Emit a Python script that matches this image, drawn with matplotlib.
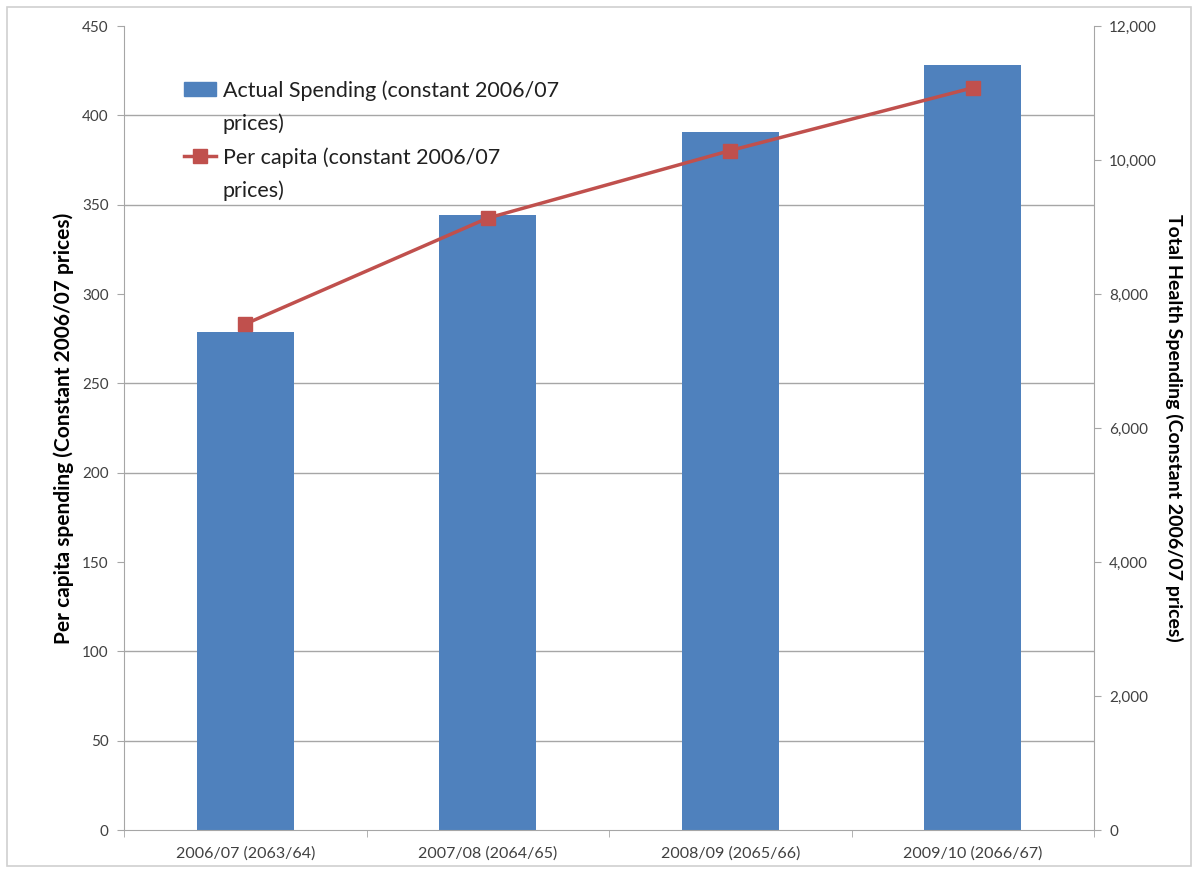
import numpy as np
import matplotlib
matplotlib.use("Agg")
import matplotlib.pyplot as plt
from matplotlib.patches import Rectangle
from matplotlib.lines import Line2D

plt.rcParams['font.family'] = ['Lato', 'DejaVu Sans']

categories = ["2006/07 (2063/64)", "2007/08 (2064/65)", "2008/09 (2065/66)", "2009/10 (2066/67)"]
total_spending = [7440, 9180, 10415, 11420]   # right axis (bars)
per_capita = [283.2, 342.5, 380.3, 415.4]      # left axis (line)

bar_label = ["Actual Spending (constant 2006/07", "prices)"]
line_label = ["Per capita (constant 2006/07", "prices)"]
left_ylabel = "Per capita spending (Constant 2006/07 prices)"
right_ylabel = "Total Health Spending (Constant 2006/07 prices)"

bar_color = "#4F81BD"
line_color = "#C0504D"
grid_color = "#A6A6A6"
tick_color = "#404040"

fig = plt.figure(figsize=(11.98, 8.71), dpi=100)
fig.patches.append(Rectangle((0.006, 0.006), 0.988, 0.986, transform=fig.transFigure,
                             fill=False, edgecolor="#D0D0D0", linewidth=1.2))

ax = fig.add_axes([124/1198, 41/871, (1094-124)/1198, (830-26)/871])
ax2 = ax.twinx()
ax2.set_zorder(1)
ax.set_zorder(2)
ax.patch.set_visible(False)

x = np.arange(len(categories))

# bars on right axis
ax2.bar(x, total_spending, width=0.40, color=bar_color, zorder=3)
ax2.set_ylim(0, 12000)
ax2.set_yticks(np.arange(0, 12001, 2000))
ax2.set_yticklabels([f"{v:,}" for v in range(0, 12001, 2000)])
# gridlines aligned with the left axis ticks, drawn behind bars
ax2.set_yticks(np.arange(0, 451, 50) * 12000 / 450, minor=True)
ax2.tick_params(axis='y', which='minor', length=0)
ax2.grid(True, which='minor', axis='y', color=grid_color, linewidth=1, zorder=0)
ax2.set_axisbelow(True)
ax2.tick_params(axis='y', which='major', colors=grid_color, labelcolor=tick_color,
                labelsize=11, length=5, direction='out', pad=6)
ax2.set_ylabel(right_ylabel, rotation=270, labelpad=19, fontsize=14,
               fontweight='bold', color='black')

# line on left axis
ax.plot(x, per_capita, color=line_color, linewidth=2.5, marker='s', markersize=10,
        markerfacecolor=line_color, markeredgecolor=line_color, zorder=5)
ax.set_ylim(0, 450)
ax.set_yticks(np.arange(0, 451, 50))
ax.tick_params(axis='y', colors=grid_color, labelcolor=tick_color, labelsize=11,
               length=5, direction='out', pad=6)
ax.set_ylabel(left_ylabel, fontsize=15, fontweight='bold', labelpad=6)

ax.set_xlim(-0.5, len(categories) - 0.5)
ax.set_xticks(x)
ax.set_xticklabels(categories, fontsize=11.5, color=tick_color)
ax.tick_params(axis='x', which='major', length=0, pad=12)
ax.set_xticks(np.arange(-0.5, len(categories), 1.0), minor=True)
ax.tick_params(axis='x', which='minor', length=5, color=grid_color)

for a in (ax, ax2):
    for s in a.spines.values():
        s.set_color(grid_color)
    a.spines['top'].set_visible(False)
ax2.spines['left'].set_visible(False)
ax2.spines['bottom'].set_visible(False)
ax.spines['right'].set_visible(False)
ax2.tick_params(axis='x', which='both', length=0, labelbottom=False)

blank = Rectangle((0, 0), 1, 1, visible=False)
bar_handle = Rectangle((0, 0), 1, 1, color=bar_color)
line_handle = Line2D([], [], color=line_color, linewidth=2.5, marker='s', markersize=10)
leg = ax.legend([bar_handle, blank, line_handle, blank],
                [bar_label[0], bar_label[1], line_label[0], line_label[1]],
                loc='upper left', bbox_to_anchor=(0.042, 0.957), frameon=False,
                fontsize=15.5, handlelength=1.5, handleheight=0.6, handletextpad=0.3,
                labelspacing=0.6)
for t in leg.get_texts():
    t.set_color('#202020')

fig.savefig("out.png", dpi=100)
